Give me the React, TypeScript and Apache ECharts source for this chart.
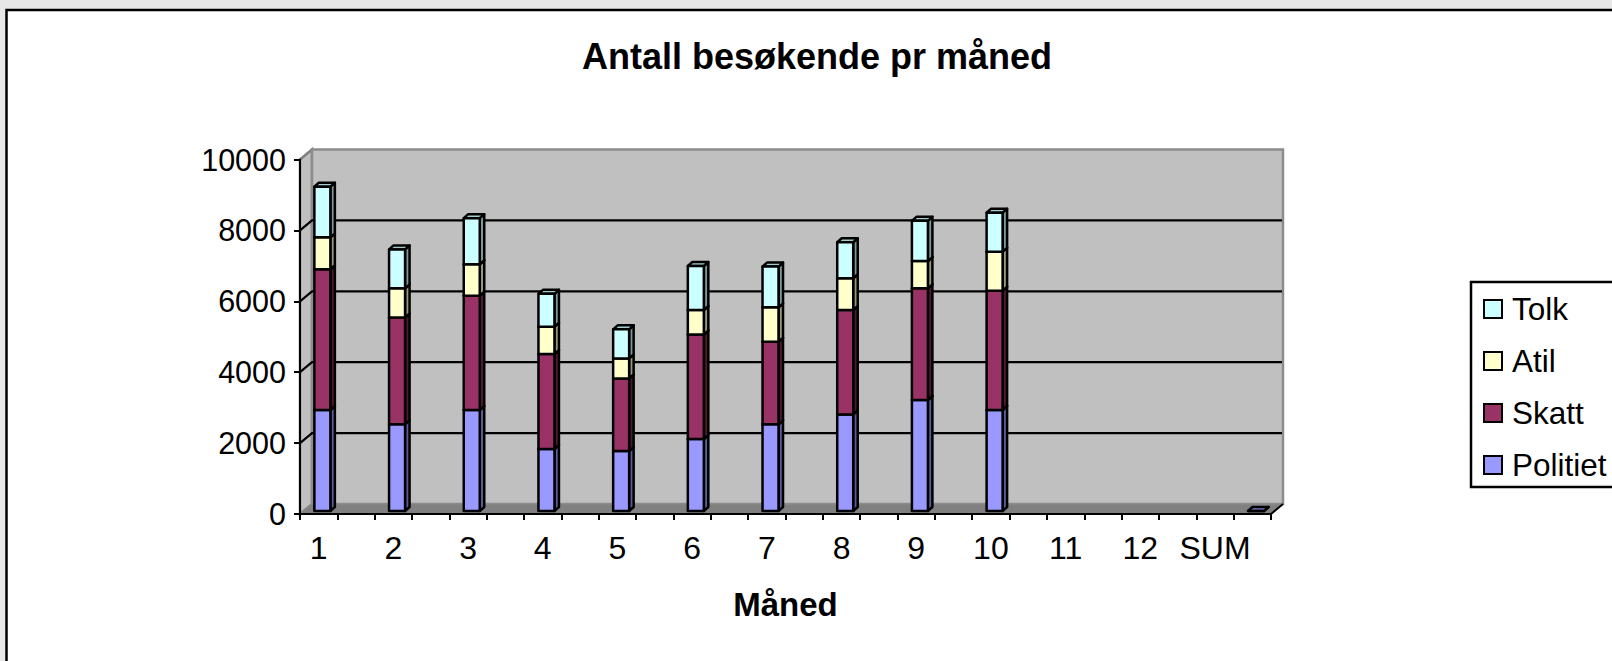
import React, { useEffect, useRef } from "react";
import * as echarts from "echarts";

const monthLabels = ["1", "2", "3", "4", "5", "6", "7", "8", "9", "10", "11", "12", "SUM"];
const politiet = [2850, 2450, 2850, 1750, 1690, 2030, 2445, 2725, 3130, 2850];
const skatt = [3970, 3010, 3225, 2680, 2050, 2950, 2330, 2945, 3150, 3365];
const atil = [900, 820, 885, 770, 565, 690, 970, 895, 770, 1100];
const tolk = [1430, 1100, 1300, 925, 820, 1240, 1150, 1015, 1135, 1100];
const yTicks = [0, 2000, 4000, 6000, 8000, 10000];
const FONT = "Liberation Sans";

// the category axis has two slots per label: the label slot and an empty one
const slots = monthLabels.flatMap((l) => [l, ""]);
const sumMarkerSlot = slots.length - 1;

const seriesDefs = [
  { name: "Politiet", values: politiet, front: "#9999ff", side: "#5c5c99", top: "#7a7acc" },
  { name: "Skatt", values: skatt, front: "#993366", side: "#4d1a33", top: "#7a2952" },
  { name: "Atil", values: atil, front: "#ffffcc", side: "#99997a", top: "#cccca3" },
  { name: "Tolk", values: tolk, front: "#ccffff", side: "#7a9999", top: "#a3cccc" },
];

const WALL_DX = 12;
const WALL_DY = -10;
const LW = 2.5;

function wallsItem(params: any, api: any) {
  const cs = params.coordSys;
  const x0 = cs.x;
  const x1 = cs.x + cs.width;
  const y0 = api.coord([0, 0])[1];
  const yT = api.coord([0, 10000])[1];
  const children: any[] = [
    {
      type: "polygon",
      shape: { points: [[x0, yT], [x0 + WALL_DX, yT + WALL_DY], [x0 + WALL_DX, y0 + WALL_DY], [x0, y0]] },
      style: { fill: "#c0c0c0", stroke: "#808080", lineWidth: 2.5 },
    },
    {
      type: "rect",
      shape: { x: x0 + WALL_DX, y: yT + WALL_DY, width: cs.width, height: y0 - yT },
      style: { fill: "#c0c0c0", stroke: "#8c8c8c", lineWidth: 2.5 },
    },
    {
      type: "polygon",
      shape: { points: [[x0, y0], [x0 + WALL_DX, y0 + WALL_DY], [x1 + WALL_DX, y0 + WALL_DY], [x1, y0]] },
      style: { fill: "#808080", stroke: "#8c8c8c", lineWidth: 1 },
    },
    {
      type: "line",
      shape: { x1, y1: y0, x2: x1 + WALL_DX, y2: y0 + WALL_DY },
      style: { stroke: "#000", lineWidth: 2 },
    },
  ];
  yTicks.forEach((t) => {
    const y = api.coord([0, t])[1];
    if (t > 0 && t < 10000) {
      children.push({
        type: "polyline",
        shape: { points: [[x0, y], [x0 + WALL_DX, y + WALL_DY], [x1 + WALL_DX - 1, y + WALL_DY]] },
        style: { stroke: "#000", fill: "none", lineWidth: 2.2 },
      });
    }
  });
  return { type: "group", children };
}

function barItem(def: any) {
  return (_params: any, api: any) => {
    const slot = api.value(0);
    const [cx, yBase] = api.coord([slot, api.value(1)]);
    const yTop = api.coord([slot, api.value(2)])[1];
    const w = 16;
    const fx = cx + 3.7 - w / 2;
    const off = -3;
    const dx = 4.5;
    const dy = -4;
    const a = yBase + off;
    const b = yTop + off;
    const line = { stroke: "#000", lineWidth: LW, lineJoin: "round" };
    return {
      type: "group",
      children: [
        {
          type: "polygon",
          shape: { points: [[fx + w, a], [fx + w + dx, a + dy], [fx + w + dx, b + dy], [fx + w, b]] },
          style: { fill: def.side, ...line },
        },
        {
          type: "polygon",
          shape: { points: [[fx, b], [fx + dx, b + dy], [fx + w + dx, b + dy], [fx + w, b]] },
          style: { fill: def.top, ...line },
        },
        {
          type: "rect",
          shape: { x: fx, y: b, width: w, height: a - b },
          style: { fill: def.front, ...line },
        },
      ],
    };
  };
}

function buildSeries() {
  const totals = politiet.map(() => 0);
  const bars = seriesDefs.map((def, k) => {
    const data: number[][] = def.values.map((v, i) => {
      const row = [i * 2, totals[i], totals[i] + v];
      totals[i] += v;
      return row;
    });
    if (k === 0) data.push([sumMarkerSlot, 0, 0]);
    return {
      type: "custom",
      name: def.name,
      coordinateSystem: "cartesian2d",
      renderItem: barItem(def),
      encode: { x: 0, y: 2 },
      data,
      clip: false,
      z: 3 + k,
      silent: true,
      itemStyle: { color: def.front, borderColor: "#000", borderWidth: 2.5 },
    };
  });
  return [
    {
      type: "custom",
      name: "walls",
      coordinateSystem: "cartesian2d",
      renderItem: wallsItem,
      encode: { x: 0, y: 1 },
      data: [[0, 0]],
      clip: false,
      z: 2,
      silent: true,
    },
    ...bars,
  ];
}

export default function App() {
  const ref = useRef<HTMLDivElement>(null);
  useEffect(() => {
    const chart = echarts.init(ref.current!, undefined, { renderer: "svg" });
    chart.setOption({
      animation: false,
      backgroundColor: "#e8e8e8",
      textStyle: { fontFamily: FONT },
      title: {
        text: "Antall besøkende pr måned",
        left: 812,
        top: 33,
        textAlign: "center",
        textStyle: { fontFamily: FONT, fontSize: 36, fontWeight: "bold", color: "#000" },
      },
      graphic: [
        {
          type: "rect",
          z: -10,
          shape: { x: 6.5, y: 10, width: 1640, height: 690 },
          style: { fill: "#fff", stroke: "#000", lineWidth: 2.5 },
        },
      ],
      grid: { left: 300, right: 341, top: 159.5, bottom: 147 },
      legend: {
        orient: "vertical",
        left: 1471,
        top: 282,
        padding: [11, 30, 6, 12],
        itemWidth: 18,
        itemHeight: 18,
        itemGap: 20,
        icon: "rect",
        backgroundColor: "#fff",
        borderColor: "#000",
        borderWidth: 2.5,
        borderRadius: 0,
        data: ["Tolk", "Atil", "Skatt", "Politiet"],
        textStyle: { fontFamily: FONT, fontSize: 31.5, color: "#000", padding: [0, 0, 0, 5] },
      },
      xAxis: {
        type: "category",
        data: slots,
        z: 6,
        boundaryGap: true,
        name: "Måned",
        nameLocation: "center",
        nameGap: 74,
        nameTextStyle: { fontFamily: FONT, fontSize: 33, fontWeight: "bold", color: "#000" },
        axisLine: { lineStyle: { color: "#000", width: 2 } },
        axisTick: { show: true, interval: 0, length: 6, lineStyle: { color: "#000", width: 2 } },
        axisLabel: { interval: 0, margin: 18, fontFamily: FONT, fontSize: 32, color: "#000" },
        splitLine: { show: false },
      },
      yAxis: {
        type: "value",
        min: 0,
        max: 10000,
        interval: 2000,
        z: 6,
        axisLine: { show: true, lineStyle: { color: "#000", width: 2 } },
        axisTick: { show: true, length: 6, lineStyle: { color: "#000", width: 2 } },
        axisLabel: {
          margin: 14,
          padding: [3, 0, 0, 0],
          fontFamily: FONT,
          fontSize: 30.5,
          color: "#000",
          formatter: (v: number) => String(v),
        },
        splitLine: { show: false },
      },
      series: buildSeries(),
    });
    return () => chart.dispose();
  }, []);
  return (
    <div
      ref={ref}
      style={{ position: "absolute", left: 0, top: 0, width: 1612, height: 661, overflow: "hidden" }}
    />
  );
}
